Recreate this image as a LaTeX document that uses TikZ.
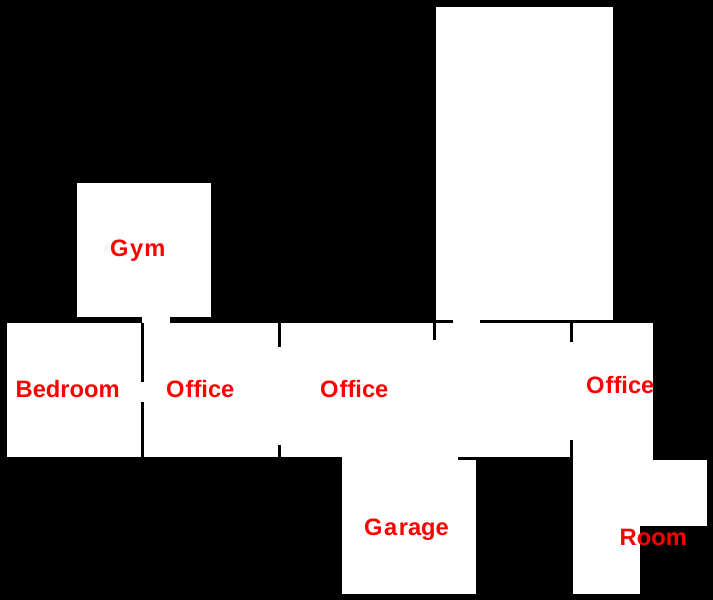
\documentclass[tikz,border=0pt]{standalone}
\usepackage{fontspec}
\setmainfont{Liberation Sans}
\begin{document}
\begin{tikzpicture}
[x=1pt, y=-1pt,
 roomfill/.style={fill=white},
 wall/.style={fill=black},
 roomlabel/.style={text=red, inner sep=0pt, anchor=base west,
   font=\fontsize{23.7}{24}\selectfont\bfseries}]
  \useasboundingbox (0,0) rectangle (713,600);
  \fill[black] (0,0) rectangle (713,600);
  % rooms
  \fill[roomfill] (436,7) rectangle (613,320);
  \fill[roomfill] (77,183) rectangle (211,317);
  \fill[roomfill] (7,323) rectangle (142,457);
  \fill[roomfill] (142,317) rectangle (170,323);
  \fill[roomfill] (142,323) rectangle (653,457);
  \fill[roomfill] (453,320) rectangle (480,323);
  \fill[roomfill] (342,457) rectangle (458,460);
  \fill[roomfill] (342,460) rectangle (476,594);
  \fill[roomfill] (573,457) rectangle (653,460);
  \fill[roomfill] (573,460) rectangle (640,594);
  \fill[roomfill] (640,460) rectangle (707,526);
  % walls
  \fill[wall] (141,323) rectangle (144,382);
  \fill[wall] (141,402) rectangle (144,457);
  \fill[wall] (278,323) rectangle (281,347);
  \fill[wall] (278,445) rectangle (281,457);
  \fill[wall] (433,323) rectangle (436,340);
  \fill[wall] (570,323) rectangle (573,342);
  \fill[wall] (570,440) rectangle (573,457);
  \node[roomlabel] (gym) at (110,256) {G\kern1.5pt y\kern1pt m};
  \node[roomlabel] (bedroom) at (15.5,397) {Bedroom};
  \node[roomlabel] (officeA) at (166,397) {O\kern1pt ffice};
  \node[roomlabel] (officeB) at (320,397) {O\kern1pt ffice};
  \node[roomlabel] (officeC) at (586,393) {O\kern1pt ffice};
  \node[roomlabel] (garage) at (364,535) {G\kern1.5pt a\kern1.5pt rage};
  \node[roomlabel] (room) at (619.5,545.5) {Room};
\end{tikzpicture}
\end{document}
